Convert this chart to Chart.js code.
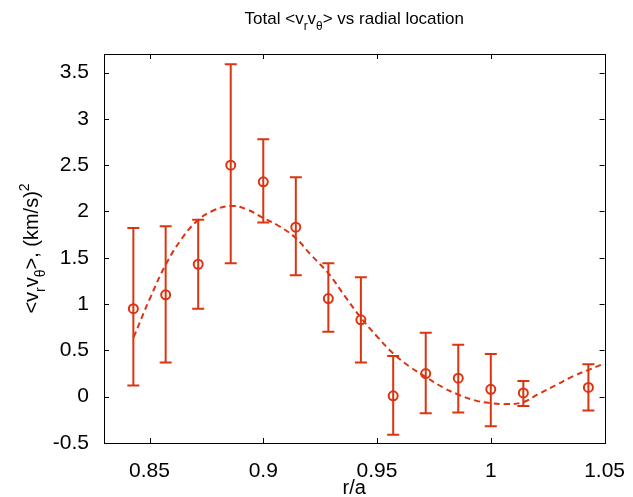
<!DOCTYPE html>
<html>
<head>
<meta charset="utf-8">
<script src="https://cdn.jsdelivr.net/npm/chart.js@4"></script>
<style>
  body { margin: 0; background: #fff; }
  #wrap { width: 633px; height: 497px; position: relative; }
</style>
</head>
<body>
<div id="wrap"><canvas id="vrChart"></canvas></div>
<script>
// measured points r/a and <vr vtheta>, with error bar ends
const rPos = [0.8429, 0.8571, 0.8714, 0.8857, 0.9000, 0.9143, 0.9286, 0.9429, 0.9571, 0.9714, 0.9857, 1.0000, 1.0143, 1.0429];
const vrvt = [0.95, 1.10, 1.43, 2.50, 2.32, 1.83, 1.06, 0.83, 0.01, 0.25, 0.20, 0.08, 0.04, 0.10];
const errLow = [0.12, 0.37, 0.95, 1.44, 1.88, 1.31, 0.70, 0.37, -0.41, -0.18, -0.17, -0.32, -0.10, -0.15];
const errHigh = [1.82, 1.84, 1.91, 3.59, 2.78, 2.37, 1.44, 1.29, 0.44, 0.69, 0.56, 0.46, 0.17, 0.35];

// dashed fit curve
const fitR = [0.843, 0.850, 0.857, 0.864, 0.871, 0.878, 0.886, 0.893, 0.900, 0.907, 0.914, 0.921, 0.929, 0.936, 0.943,
              0.950, 0.957, 0.964, 0.971, 0.979, 0.986, 0.993, 1.000, 1.007, 1.014, 1.021, 1.029, 1.036, 1.043, 1.050];
const fitV = [0.64, 1.05, 1.42, 1.70, 1.90, 2.01, 2.06, 2.02, 1.93, 1.84, 1.72, 1.53, 1.32, 1.08, 0.85,
              0.65, 0.47, 0.33, 0.22, 0.10, 0.02, -0.04, -0.07, -0.08, -0.06, 0.03, 0.13, 0.22, 0.29, 0.36];

const xTicks = [0.85, 0.9, 0.95, 1, 1.05];
const yTicks = [-0.5, 0, 0.5, 1, 1.5, 2, 2.5, 3, 3.5];

const red = '#dc3410';
const fontName = '"Liberation Sans", Arial, sans-serif';

// text with sub/superscript pieces: [text, shift] shift: 0 normal, 1 sub, -1 super
function drawRich(ctx, parts, x, y, size) {
    let total = 0;
    parts.forEach(p => {
        ctx.font = (p[1] ? size * 0.7 : size) + 'px ' + fontName;
        total += ctx.measureText(p[0]).width;
    });
    let cx = x - total / 2;
    parts.forEach(p => {
        const s = p[1] ? size * 0.7 : size;
        ctx.font = s + 'px ' + fontName;
        let dy = 0;
        if (p[1] === 1) dy = size * 0.35;
        if (p[1] === -1) dy = -size * 0.45;
        ctx.fillText(p[0], cx, y + dy);
        cx += ctx.measureText(p[0]).width;
    });
}

const matlabLook = {
    id: 'matlabLook',
    afterDatasetsDraw(chart) {
        const ctx = chart.ctx;
        const xs = chart.scales.x, ys = chart.scales.y;
        const a = chart.chartArea;

        // error bars
        ctx.save();
        ctx.strokeStyle = red;
        ctx.lineWidth = 2;
        rPos.forEach((r, i) => {
            const px = xs.getPixelForValue(r);
            const top = ys.getPixelForValue(errHigh[i]);
            const bot = ys.getPixelForValue(errLow[i]);
            ctx.beginPath();
            ctx.moveTo(px, top); ctx.lineTo(px, bot);
            ctx.moveTo(px - 6, top); ctx.lineTo(px + 6, top);
            ctx.moveTo(px - 6, bot); ctx.lineTo(px + 6, bot);
            ctx.stroke();
        });
        ctx.restore();

        // box and inward ticks
        ctx.save();
        ctx.strokeStyle = '#000';
        ctx.lineWidth = 1;
        ctx.strokeRect(Math.round(a.left) + 0.5, Math.round(a.top) + 0.5,
            Math.round(a.right - a.left), Math.round(a.bottom - a.top));
        ctx.beginPath();
        xTicks.forEach(v => {
            const px = Math.round(xs.getPixelForValue(v)) + 0.5;
            ctx.moveTo(px, a.bottom); ctx.lineTo(px, a.bottom - 5);
            ctx.moveTo(px, a.top); ctx.lineTo(px, a.top + 5);
        });
        yTicks.forEach(v => {
            const py = Math.round(ys.getPixelForValue(v)) + 0.5;
            ctx.moveTo(a.left, py); ctx.lineTo(a.left + 5, py);
            ctx.moveTo(a.right, py); ctx.lineTo(a.right - 5, py);
        });
        ctx.stroke();
        ctx.restore();

        // titles
        ctx.save();
        ctx.fillStyle = '#000';
        ctx.textAlign = 'left';
        ctx.textBaseline = 'alphabetic';
        const mid = (a.left + a.right) / 2;
        drawRich(ctx, [['Total <v', 0], ['r', 1], ['v', 0], ['θ', 1], ['> vs radial location', 0]], mid, 24, 17);
        drawRich(ctx, [['r/a', 0]], mid, 494, 20);
        ctx.translate(38, (a.top + a.bottom) / 2);
        ctx.rotate(-Math.PI / 2);
        drawRich(ctx, [['<v', 0], ['r', 1], ['v', 0], ['θ', 1], ['>, (km/s)', 0], ['2', -1]], 0, 0, 20);
        ctx.restore();
    }
};

new Chart(document.getElementById('vrChart'), {
    type: 'scatter',
    data: {
        datasets: [{
            label: 'data',
            data: rPos.map((r, i) => ({ x: r, y: vrvt[i] })),
            showLine: false,
            pointStyle: 'circle',
            pointRadius: 4.5,
            pointBorderWidth: 2,
            pointBorderColor: red,
            pointBackgroundColor: 'rgba(0,0,0,0)'
        }, {
            label: 'fit',
            data: fitR.map((r, i) => ({ x: r, y: fitV[i] })),
            showLine: true,
            borderColor: red,
            borderWidth: 2,
            borderDash: [6, 4],
            tension: 0.4,
            pointRadius: 0
        }]
    },
    options: {
        responsive: true,
        maintainAspectRatio: false,
        animation: false,
        layout: { padding: { top: 54, right: 23, left: 0, bottom: 0 } },
        plugins: { legend: { display: false }, tooltip: { enabled: false } },
        scales: {
            x: {
                type: 'linear', min: 0.83, max: 1.05,
                afterBuildTicks: s => { s.ticks = xTicks.map(v => ({ value: v })); },
                afterFit: s => { s.height = 54; },
                grid: { display: false },
                border: { display: false },
                ticks: {
                    padding: 8, color: '#000',
                    font: { family: fontName, size: 21 },
                    maxRotation: 0, autoSkip: false,
                    callback: v => String(+Number(v).toFixed(2))
                }
            },
            y: {
                type: 'linear', min: -0.5, max: 3.7,
                afterBuildTicks: s => { s.ticks = yTicks.map(v => ({ value: v })); },
                afterFit: s => { s.width = 104; },
                grid: { display: false },
                border: { display: false },
                ticks: {
                    padding: 7, color: '#000',
                    font: { family: fontName, size: 21 },
                    autoSkip: false,
                    callback: v => String(+Number(v).toFixed(1))
                }
            }
        }
    },
    plugins: [matlabLook]
});
</script>
</body>
</html>
